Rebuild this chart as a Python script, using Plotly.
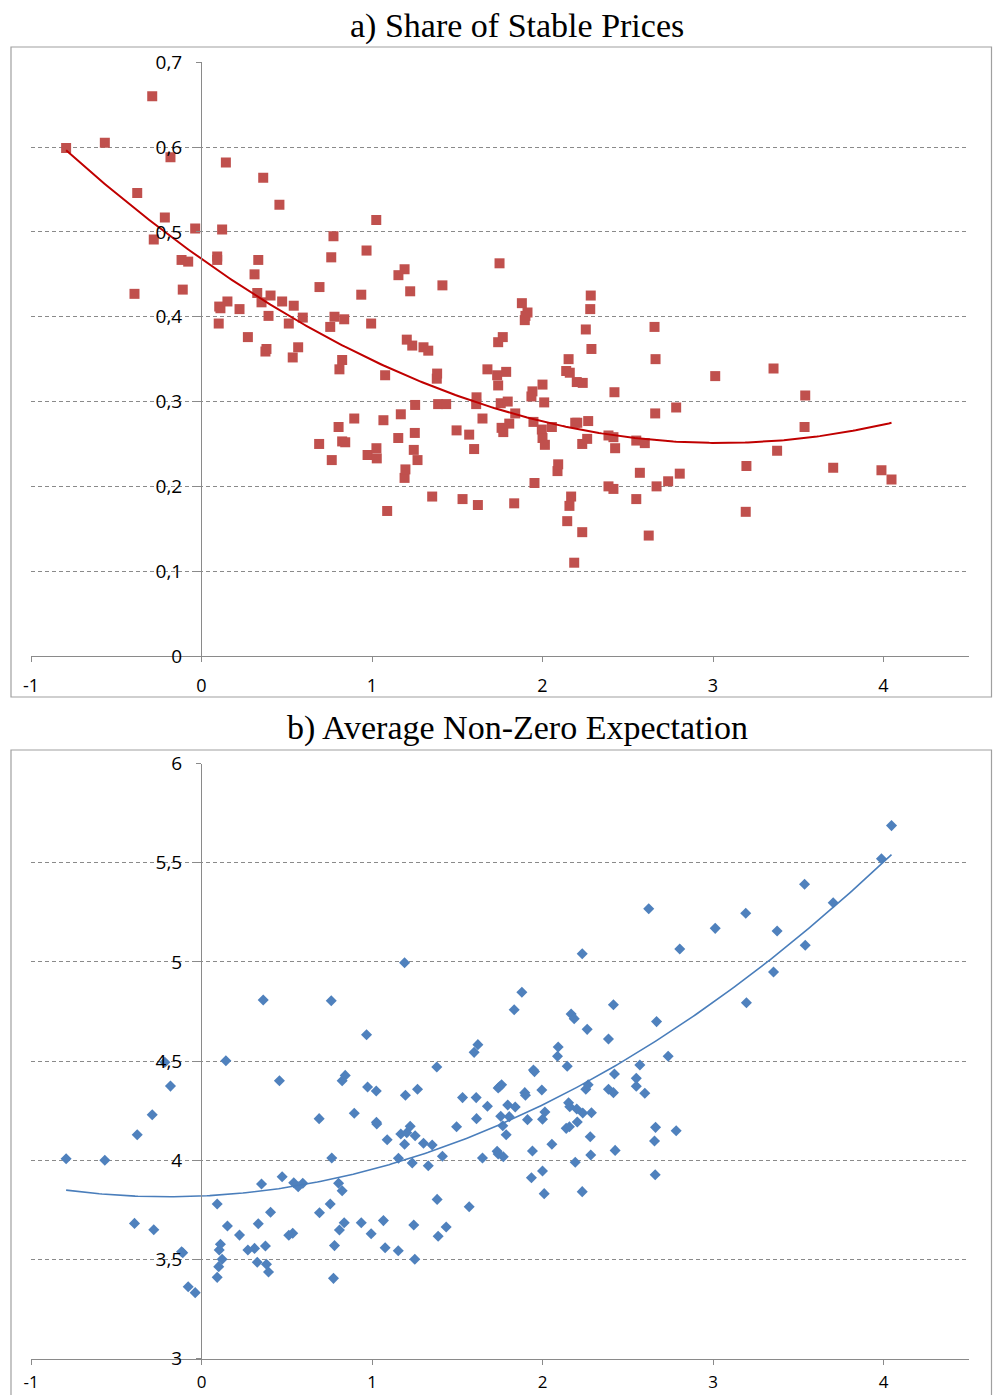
import numpy as np
import plotly.graph_objects as go

# Shared x variable (both panels use the same observations)
x_values = [
    -0.794, -0.567, -0.393, -0.377, -0.289, -0.280, -0.215, -0.182, -0.117, -0.110,
    -0.078, -0.037, 0.092, 0.092, 0.101, 0.104, 0.111, 0.121, 0.143, 0.152,
    0.223, 0.272, 0.311, 0.327, 0.333, 0.352, 0.362, 0.375, 0.381, 0.393,
    0.405, 0.457, 0.473, 0.512, 0.535, 0.541, 0.567, 0.594, 0.690, 0.692,
    0.755, 0.761, 0.764, 0.774, 0.780, 0.804, 0.809, 0.825, 0.825, 0.837,
    0.843, 0.896, 0.937, 0.968, 0.974, 0.995, 1.025, 1.026, 1.028, 1.067,
    1.077, 1.089, 1.154, 1.155, 1.169, 1.191, 1.191, 1.196, 1.204, 1.224,
    1.236, 1.245, 1.251, 1.253, 1.267, 1.302, 1.330, 1.353, 1.380, 1.382,
    1.388, 1.413, 1.435, 1.496, 1.531, 1.570, 1.599, 1.611, 1.613, 1.621,
    1.648, 1.677, 1.734, 1.740, 1.740, 1.748, 1.755, 1.760, 1.767, 1.770,
    1.787, 1.796, 1.805, 1.834, 1.840, 1.879, 1.896, 1.900, 1.912, 1.935,
    1.941, 1.947, 1.953, 1.996, 2.000, 2.000, 2.010, 2.014, 2.055, 2.088,
    2.092, 2.139, 2.145, 2.153, 2.158, 2.160, 2.168, 2.186, 2.192, 2.201,
    2.204, 2.233, 2.233, 2.236, 2.254, 2.262, 2.268, 2.280, 2.283, 2.287,
    2.387, 2.387, 2.416, 2.416, 2.422, 2.426, 2.550, 2.550, 2.571, 2.600,
    2.623, 2.657, 2.661, 2.663, 2.669, 2.737, 2.784, 2.805, 3.013, 3.192,
    3.196, 3.355, 3.376, 3.537, 3.541, 3.705, 3.988, 4.047,
]

# a) Share of stable prices
share_stable = [
    0.599, 0.605, 0.427, 0.546, 0.660, 0.491, 0.517, 0.588, 0.467, 0.432,
    0.465, 0.504, 0.471, 0.467, 0.392, 0.412, 0.410, 0.503, 0.582, 0.418,
    0.409, 0.376, 0.450, 0.428, 0.467, 0.417, 0.564, 0.359, 0.362, 0.401,
    0.425, 0.532, 0.418, 0.392, 0.352, 0.413, 0.364, 0.399, 0.250, 0.435,
    0.388, 0.470, 0.231, 0.495, 0.400, 0.270, 0.338, 0.349, 0.253, 0.397,
    0.252, 0.280, 0.426, 0.478, 0.237, 0.392, 0.514, 0.245, 0.233, 0.278,
    0.331, 0.171, 0.257, 0.449, 0.285, 0.456, 0.210, 0.220, 0.373, 0.430,
    0.366, 0.243, 0.263, 0.296, 0.231, 0.364, 0.360, 0.188, 0.327, 0.333,
    0.297, 0.437, 0.297, 0.266, 0.185, 0.261, 0.244, 0.297, 0.305, 0.178,
    0.280, 0.338, 0.331, 0.370, 0.319, 0.463, 0.298, 0.269, 0.376, 0.264,
    0.335, 0.300, 0.274, 0.180, 0.286, 0.416, 0.396, 0.401, 0.405, 0.306,
    0.312, 0.276, 0.204, 0.267, 0.320, 0.257, 0.299, 0.249, 0.270, 0.218,
    0.226, 0.336, 0.159, 0.350, 0.177, 0.334, 0.188, 0.110, 0.275, 0.323,
    0.275, 0.250, 0.146, 0.322, 0.385, 0.256, 0.277, 0.409, 0.425, 0.362,
    0.260, 0.200, 0.258, 0.197, 0.311, 0.245, 0.254, 0.185, 0.216, 0.251,
    0.142, 0.388, 0.286, 0.350, 0.200, 0.206, 0.293, 0.215, 0.330, 0.170,
    0.224, 0.339, 0.242, 0.270, 0.307, 0.222, 0.219, 0.208,
]

# b) Average non-zero expectation
avg_expectation = [
    4.008, 4.000, 3.682, 4.129, 4.230, 3.650, 4.494, 4.374, 3.539, 3.534,
    3.363, 3.333, 3.780, 3.410, 3.464, 3.548, 3.577, 3.501, 4.502, 3.669,
    3.623, 3.548, 3.556, 3.486, 3.680, 3.881, 4.808, 3.568, 3.476, 3.437,
    3.738, 4.401, 3.917, 3.622, 3.632, 3.887, 3.867, 3.884, 4.210, 3.736,
    3.780, 4.804, 4.012, 3.405, 3.570, 3.884, 3.649, 4.401, 3.847, 3.685,
    4.428, 4.237, 3.685, 4.633, 4.369, 3.630, 4.349, 4.192, 4.183, 3.696,
    3.559, 4.104, 3.544, 4.010, 4.133, 4.996, 4.081, 4.328, 4.139, 4.171,
    3.986, 3.674, 3.501, 4.124, 4.358, 4.086, 3.973, 4.077, 4.470, 3.803,
    3.617, 4.020, 3.664, 4.169, 4.316, 3.766, 4.544, 4.316, 4.210, 4.583,
    4.012, 4.272, 4.045, 4.364, 4.032, 4.371, 4.222, 4.381, 4.174, 4.018,
    4.129, 4.279, 4.220, 4.759, 4.269, 4.847, 4.341, 4.328, 4.205, 3.912,
    4.047, 4.455, 4.447, 4.354, 4.207, 3.946, 3.832, 4.243, 4.081, 4.524,
    4.571, 4.161, 4.474, 4.290, 4.169, 4.270, 4.737, 4.714, 3.990, 4.259,
    4.193, 5.041, 3.842, 4.238, 4.358, 4.660, 4.381, 4.119, 4.027, 4.240,
    4.358, 4.611, 4.341, 4.784, 4.435, 4.050, 4.413, 4.373, 4.480, 4.338,
    5.268, 4.097, 3.927, 4.166, 4.699, 4.524, 4.149, 5.065, 5.169, 5.245,
    4.794, 4.949, 5.156, 5.391, 5.084, 5.298, 5.520, 5.687,
]

x_tickvals = [-1, 0, 1, 2, 3, 4]
x_ticklabels = ["-1", "0", "1", "2", "3", "4"]
panel_titles = ["a) Share of Stable Prices", "b) Average Non-Zero Expectation"]

W, H = 993, 1395
GRAY = "#8a8a8a"
XFONT = dict(family="Open Sans", size=18, color="#000000")
XFONT_B = dict(family="Open Sans", size=17, color="#000000")
YFONT = dict(family="Open Sans", size=19, color="#000000")

x_arr = np.array(x_values)
xs = np.linspace(x_arr.min(), x_arr.max(), 300)
fit_a = np.polyval(np.polyfit(x_arr, np.array(share_stable), 2), xs)
fit_b = np.polyval(np.polyfit(x_arr, np.array(avg_expectation), 2), xs)

fig = go.Figure()
fig.add_trace(go.Scatter(x=x_values, y=share_stable, mode="markers",
                         marker=dict(symbol="square", size=10, color="#C0504D",
                                     line=dict(width=0)),
                         xaxis="x", yaxis="y", showlegend=False))
fig.add_trace(go.Scatter(x=xs, y=fit_a, mode="lines",
                         line=dict(color="#C00000", width=2),
                         xaxis="x", yaxis="y", showlegend=False))
fig.add_trace(go.Scatter(x=x_values, y=avg_expectation, mode="markers",
                         marker=dict(symbol="diamond", size=8.5, color="#4F81BD",
                                     line=dict(width=0)),
                         xaxis="x2", yaxis="y2", showlegend=False))
fig.add_trace(go.Scatter(x=xs, y=fit_b, mode="lines",
                         line=dict(color="#4A7EBB", width=1.6),
                         xaxis="x2", yaxis="y2", showlegend=False))

xdom = [31 / W, 968.75 / W]
ypos = 201 / W

common_x = dict(domain=xdom, range=[-1, 4.5], tickmode="array", tickvals=x_tickvals,
                ticktext=x_ticklabels, showgrid=False, automargin=False,
                zeroline=False, showline=True, linecolor=GRAY, linewidth=1,
                ticks="outside", ticklen=5, tickcolor=GRAY)
common_y = dict(anchor="free", position=ypos, showgrid=True, gridcolor=GRAY,
                griddash="4px,3px", gridwidth=1, zeroline=False, showline=True,
                automargin=False,
                linecolor=GRAY, linewidth=1, ticks="outside", ticklen=5,
                tickcolor=GRAY, tickfont=YFONT, ticklabelstandoff=10)

fig.update_layout(
    width=W, height=H,
    margin=dict(l=0, r=0, t=0, b=0, pad=0, autoexpand=False),
    template="none",
    paper_bgcolor="white", plot_bgcolor="white",
    separators=", ",
    xaxis=dict(anchor="y", ticklabelstandoff=8, tickfont=XFONT, **common_x),
    yaxis=dict(domain=[1 - 656 / H, 1 - 62.3 / H], range=[0, 0.7], tick0=0, dtick=0.1,
               **common_y),
    xaxis2=dict(anchor="y2", ticklabelstandoff=3, tickfont=XFONT_B, **common_x),
    yaxis2=dict(domain=[1 - 1358.7 / H, 1 - 763.5 / H], range=[3, 6], tick0=3, dtick=0.5,
                **common_y),
    shapes=[
        dict(type="rect", xref="paper", yref="paper", x0=11 / W, x1=991.5 / W,
             y0=1 - 697 / H, y1=1 - 47 / H, line=dict(color="#a0a0a0", width=1.2)),
        dict(type="rect", xref="paper", yref="paper", x0=11 / W, x1=991.5 / W,
             y0=-0.01, y1=1 - 750 / H, line=dict(color="#a0a0a0", width=1.2)),
    ],
    annotations=[
        dict(text=panel_titles[0], xref="paper", yref="paper", x=517 / W, y=1 - 26 / H,
             showarrow=False, xanchor="center", yanchor="middle",
             font=dict(family="Liberation Serif", size=34, color="#000000")),
        dict(text=panel_titles[1], xref="paper", yref="paper", x=517 / W, y=1 - 728 / H,
             showarrow=False, xanchor="center", yanchor="middle",
             font=dict(family="Liberation Serif", size=34, color="#000000")),
    ],
)

fig.write_html("out.html")
